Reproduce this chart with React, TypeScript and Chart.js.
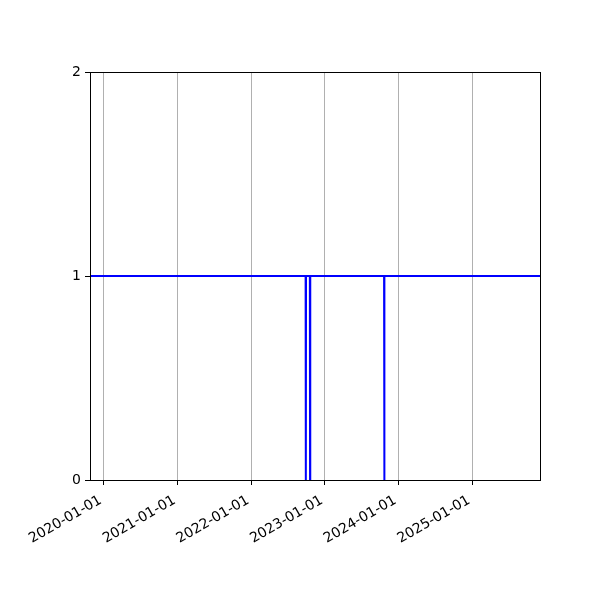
import React, { useEffect, useRef } from "react";
import { Chart, registerables, Plugin } from "chart.js";

Chart.register(...registerables);

// daily status series: 1 = up, 0 = down
const dates = [
  "2019-10-01",
  "2022-09-28",
  "2022-09-29",
  "2022-09-30",
  "2022-10-19",
  "2022-10-20",
  "2022-10-21",
  "2023-10-22",
  "2023-10-23",
  "2023-10-24",
  "2026-01-01",
];
const values = [1, 1, 0, 1, 1, 0, 1, 1, 0, 1, 1];

const xTickLabels = [
  "2020-01-01",
  "2021-01-01",
  "2022-01-01",
  "2023-01-01",
  "2024-01-01",
  "2025-01-01",
];
const yTicks = [0, 1, 2];

const xMin = Date.parse("2019-10-25");
const xMax = Date.parse("2025-12-03");

const fmt = (v: number) => new Date(v).toISOString().slice(0, 10);

// matplotlib-style box around the plot area
const frame: Plugin<"line"> = {
  id: "frame",
  afterDraw(chart) {
    const { ctx, chartArea } = chart;
    ctx.save();
    ctx.strokeStyle = "#000";
    ctx.lineWidth = 1;
    ctx.strokeRect(
      Math.round(chartArea.left) + 0.5,
      Math.round(chartArea.top) + 0.5,
      Math.round(chartArea.right - chartArea.left),
      Math.round(chartArea.bottom - chartArea.top)
    );
    ctx.restore();
  },
};

const App: React.FC = () => {
  const canvasRef = useRef<HTMLCanvasElement | null>(null);

  useEffect(() => {
    const ctx = canvasRef.current?.getContext("2d");
    if (!ctx) return;
    const font = { family: "DejaVu Sans", size: 14 };
    const chart = new Chart(ctx, {
      type: "line",
      data: {
        datasets: [
          {
            data: dates.map((d, i) => ({ x: Date.parse(d), y: values[i] })),
            borderColor: "#0000ff",
            borderWidth: 2,
            pointRadius: 0,
            tension: 0,
            fill: false,
          },
        ],
      },
      options: {
        responsive: false,
        animation: false,
        layout: { padding: { left: 0, top: 72, right: 60, bottom: 0 } },
        plugins: { legend: { display: false }, tooltip: { enabled: false } },
        scales: {
          x: {
            type: "linear",
            min: xMin,
            max: xMax,
            afterBuildTicks(scale) {
              scale.ticks = xTickLabels.map((t) => ({ value: Date.parse(t) }));
            },
            afterFit(scale) {
              scale.height = 120;
            },
            ticks: {
              autoSkip: false,
              maxRotation: 30,
              minRotation: 30,
              color: "#000",
              font,
              padding: 7,
              labelOffset: -3,
              callback: (v) => fmt(Number(v)),
            },
            grid: {
              color: "#b0b0b0",
              lineWidth: 1,
              tickColor: "#000",
              tickLength: 5,
            },
            border: { display: false },
          },
          y: {
            min: 0,
            max: 2,
            afterBuildTicks(scale) {
              scale.ticks = yTicks.map((v) => ({ value: v }));
            },
            afterFit(scale) {
              scale.width = 90;
            },
            ticks: { color: "#000", font, padding: 4 },
            grid: {
              drawOnChartArea: false,
              tickColor: "#000",
              tickLength: 5,
            },
            border: { display: false },
          },
        },
      },
      plugins: [frame],
    });
    return () => chart.destroy();
  }, []);

  return (
    <div style={{ position: "absolute", left: 0, top: 0, width: 600, height: 600, background: "#fff" }}>
      <canvas ref={canvasRef} width={600} height={600} />
    </div>
  );
};

export default App;
